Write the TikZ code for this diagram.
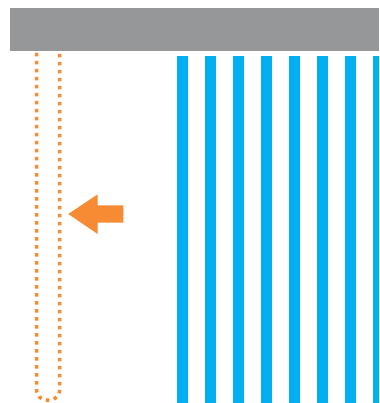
\documentclass[tikz,border=0pt]{standalone}
\usepackage{tikz}
\usetikzlibrary{arrows.meta}
\definecolor{bargray}{RGB}{150,151,152}
\definecolor{stripeblue}{RGB}{0,176,240}
\definecolor{pushorange}{RGB}{246,139,51}
\tikzset{
  topbar/.style={fill=bargray},
  stripe/.style={fill=stripeblue},
  slotline/.style={draw=pushorange, line width=3.5pt,
    dash pattern=on 3.5pt off 4.5pt, rounded corners=10pt},
  pusharrow/.style={fill=pushorange},
}

\begin{document}
\begin{tikzpicture}[x=1pt, y=-1pt]
  \useasboundingbox (0,0) rectangle (379,403);
  \clip (0,0) rectangle (379,403);

  % Top bar
  \fill[topbar] (10,8) rectangle (379,51);

  % Blue stripes
  \foreach \i in {0,...,7} {
    \fill[stripe] (177+28*\i,56) rectangle ++(11,350);
  }

  % Dotted slot
  \draw[slotline] (36.5,53) -- (36.5,400) -- (59.7,400) -- (59.7,53);

  % Arrow pointing left
  \fill[pusharrow] (68.3,214) -- (97.7,194.3) -- (97.7,205.3)
    -- (123.3,205.3) -- (123.3,222.7) -- (97.7,222.7) -- (97.7,234) -- cycle;
\end{tikzpicture}
\end{document}
